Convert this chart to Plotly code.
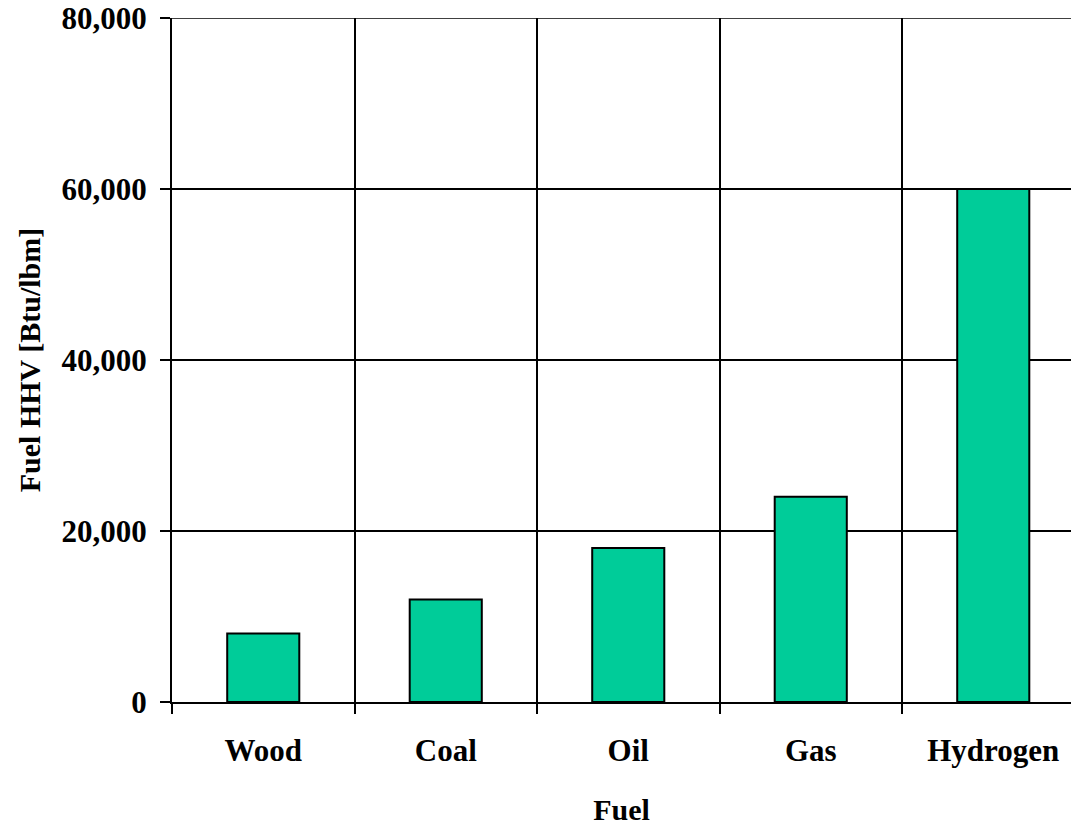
import plotly.graph_objects as go

fuels = ["Wood", "Coal", "Oil", "Gas", "Hydrogen"]
hhv_btu_lbm = [8000, 12000, 18000, 24000, 60000]
y_ticks = [0, 20000, 40000, 60000, 80000]
y_tick_labels = ["0", "20,000", "40,000", "60,000", "80,000"]

FONT = "Liberation Serif"

fig = go.Figure(
    go.Bar(
        x=fuels,
        y=hhv_btu_lbm,
        marker=dict(color="#00CC99", line=dict(color="black", width=2)),
    )
)

fig.update_layout(
    width=1071,
    height=826,
    margin=dict(l=172, r=0, t=18, b=124),
    paper_bgcolor="white",
    plot_bgcolor="white",
    bargap=0.605,
    showlegend=False,
    font=dict(family=FONT, size=31, color="black"),
)

fig.update_xaxes(
    type="category",
    range=[-0.5, 4.426],
    tickson="boundaries",
    ticks="outside",
    ticklen=10,
    tickwidth=2,
    tickcolor="black",
    showgrid=True,
    gridcolor="black",
    gridwidth=1.5,
    showline=True,
    linecolor="black",
    linewidth=2,
    automargin=False,
    tickfont=dict(family=FONT, size=31, color="black", weight="bold"),
    ticklabelstandoff=20,
    ticklabeloverflow="allow",
    title=dict(text="<b>Fuel</b>", font=dict(family=FONT, size=30), standoff=32),
)

fig.update_yaxes(
    range=[0, 80000],
    tickvals=y_ticks,
    ticktext=y_tick_labels,
    ticks="outside",
    ticklen=10,
    tickwidth=2,
    tickcolor="black",
    showgrid=True,
    gridcolor="black",
    gridwidth=1.5,
    zeroline=False,
    showline=True,
    linecolor="black",
    linewidth=2,
    automargin=False,
    tickfont=dict(family=FONT, size=31, color="black", weight="bold"),
    ticklabelstandoff=7,
    ticklabeloverflow="allow",
    title=dict(text="<b>Fuel HHV [Btu/lbm]</b>", font=dict(family=FONT, size=30), standoff=12),
)

fig.add_shape(
    type="line", xref="paper", yref="y",
    x0=0, x1=1, y0=y_ticks[-1], y1=y_ticks[-1],
    line=dict(color="black", width=1.5), layer="below",
)

fig.write_html(
    "out.html",
    config={"displayModeBar": False},
    post_script="document.body.style.margin='0';document.body.style.overflow='hidden';",
)
